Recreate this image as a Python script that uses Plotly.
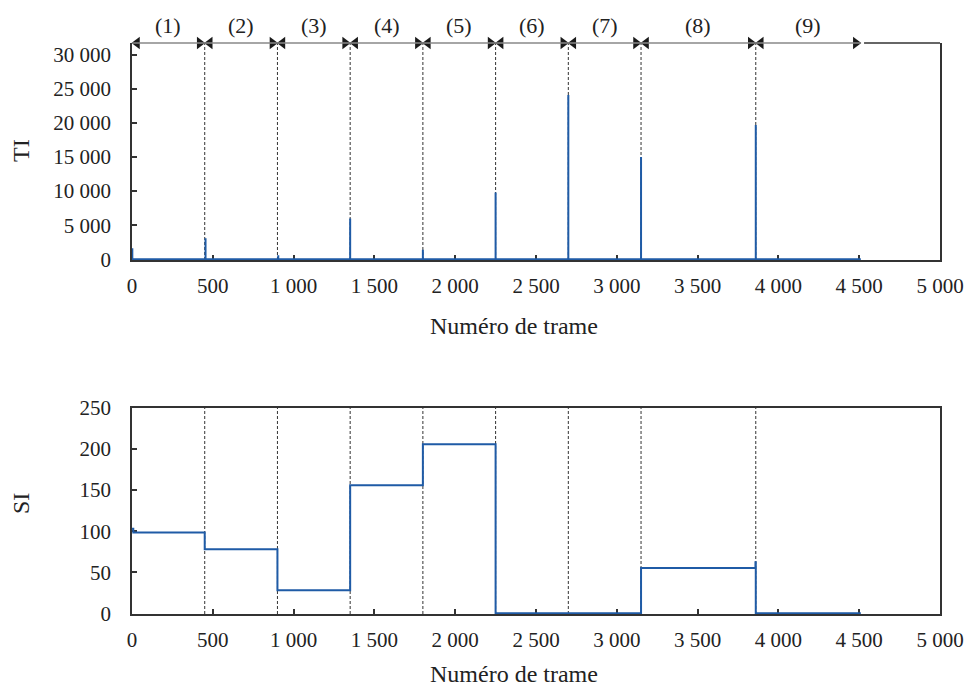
import plotly.graph_objects as go

# ---- data ----
boundaries = [0, 450, 900, 1350, 1800, 2250, 2700, 3150, 3860, 4510]
segment_labels = ["(1)", "(2)", "(3)", "(4)", "(5)", "(6)", "(7)", "(8)", "(9)"]
si_values = [98.5, 78, 28, 156, 206, 0, 0, 55, 0]
si_start_peak = 103
si_seg8_end_peak = 62
ti_spike_frames = [2, 455, 905, 1350, 1800, 2250, 2700, 3150, 3860]
ti_spike_values = [1600, 3100, 600, 6000, 1400, 9800, 24100, 15000, 19700]

x_ticks = [0, 500, 1000, 1500, 2000, 2500, 3000, 3500, 4000, 4500, 5000]
ti_ticks = [0, 5000, 10000, 15000, 20000, 25000, 30000]
si_ticks = [0, 50, 100, 150, 200, 250]

BLUE = "#1f5ba6"
AX = "#333333"
TXT = "#222222"
FONT = "Liberation Serif"

W, H = 966, 689
xdom = [132 / W, 940 / W]
top_dom = [1 - 260 / H, 1 - 43 / H]
bot_dom = [1 - 614 / H, 1 - 408 / H]
TI_MAX = 31750

# TI series: zero baseline with spikes
ti_x = [boundaries[0]]
ti_y = [0]
for f, v in zip(ti_spike_frames, ti_spike_values):
    ti_x += [f, f, f]
    ti_y += [0, v, 0]
ti_x.append(boundaries[-1])
ti_y.append(0)

# SI series: step function
si_x = [boundaries[0], boundaries[0] + 8]
si_y = [si_start_peak, si_values[0]]
for b, v in zip(boundaries[1:-1], si_values[1:]):
    if b == boundaries[8]:
        si_x.append(b - 2)
        si_y.append(si_seg8_end_peak)
    si_x.append(b)
    si_y.append(v)
si_x.append(boundaries[-1])
si_y.append(si_values[-1])

fig = go.Figure()
fig.add_trace(go.Scatter(x=ti_x, y=ti_y, mode="lines", line=dict(color=BLUE, width=2),
                         xaxis="x", yaxis="y", showlegend=False))
fig.add_trace(go.Scatter(x=si_x, y=si_y, mode="lines", line=dict(color=BLUE, width=2, shape="hv"),
                         xaxis="x2", yaxis="y2", showlegend=False))

# arrowheads for segments
off = 31
ax_l, ax_r = [], []
for a, b in zip(boundaries[:-1], boundaries[1:]):
    ax_l.append(a + off)
    ax_r.append(b - off)
fig.add_trace(go.Scatter(x=ax_l, y=[TI_MAX] * len(ax_l), mode="markers",
                         marker=dict(symbol="triangle-left", size=11, color="#1a1a1a"),
                         cliponaxis=False, xaxis="x", yaxis="y", showlegend=False))
fig.add_trace(go.Scatter(x=ax_r, y=[TI_MAX] * len(ax_r), mode="markers",
                         marker=dict(symbol="triangle-right", size=11, color="#1a1a1a"),
                         cliponaxis=False, xaxis="x", yaxis="y", showlegend=False))

shapes = []
# gray arrow line
shapes.append(dict(type="line", xref="x", yref="paper", x0=boundaries[0], x1=boundaries[-1],
                   y0=top_dom[1], y1=top_dom[1], line=dict(color="#888888", width=1.5)))
# black top border after last segment
shapes.append(dict(type="line", xref="x", yref="paper", x0=boundaries[-1] + 20, x1=5000,
                   y0=top_dom[1], y1=top_dom[1], line=dict(color=AX, width=1.5)))
# dashed separators
for b in boundaries[1:-1]:
    for dom, xr in ((top_dom, "x"), (bot_dom, "x2")):
        shapes.append(dict(type="line", xref=xr, yref="paper", x0=b, x1=b, y0=dom[0], y1=dom[1],
                           line=dict(color="#333333", width=1, dash="3px,2px"), layer="below"))

annotations = []
for a, b, lab in zip(boundaries[:-1], boundaries[1:], segment_labels):
    annotations.append(dict(x=(a + b) / 2, y=1 - 25 / H, xref="x", yref="paper",
                            xanchor="center", yanchor="middle",
                            text=lab, showarrow=False, font=dict(family=FONT, size=22, color=TXT)))
annotations += [
    dict(x=21 / W, y=1 - 151 / H, xref="paper", yref="paper", text="TI",
         xanchor="center", yanchor="middle",
         textangle=-90, showarrow=False, font=dict(family=FONT, size=24, color=TXT)),
    dict(x=21 / W, y=1 - 504 / H, xref="paper", yref="paper", text="SI",
         xanchor="center", yanchor="middle",
         textangle=-90, showarrow=False, font=dict(family=FONT, size=24, color=TXT)),
    dict(x=514 / W, y=1 - 326 / H, xref="paper", yref="paper", text="Numéro de trame",
         xanchor="center", yanchor="middle",
         showarrow=False, font=dict(family=FONT, size=24, color=TXT)),
    dict(x=514 / W, y=1 - 674 / H, xref="paper", yref="paper", text="Numéro de trame",
         xanchor="center", yanchor="middle",
         showarrow=False, font=dict(family=FONT, size=24, color=TXT)),
]

axis_common = dict(showgrid=False, zeroline=False, showline=True, linecolor=AX, linewidth=1.5,
                   ticks="inside", ticklen=5, tickwidth=1.5, tickcolor=AX, automargin=False,
                   tickfont=dict(family=FONT, size=21, color=TXT), layer="below traces")

fig.update_layout(
    template="none",
    width=W, height=H, margin=dict(l=0, r=0, t=0, b=0),
    paper_bgcolor="white", plot_bgcolor="white", separators=". ",
    showlegend=False, shapes=shapes, annotations=annotations,
    xaxis=dict(domain=xdom, anchor="y", range=[0, 5000], tickvals=x_ticks, tickformat=",d",
               ticklabelstandoff=6, **axis_common),
    yaxis=dict(domain=top_dom, anchor="x", range=[-110, TI_MAX], tickvals=ti_ticks, tickformat=",d",
               mirror=True, ticklabelstandoff=15, **axis_common),
    xaxis2=dict(domain=xdom, anchor="y2", range=[0, 5000], tickvals=x_ticks, tickformat=",d",
                mirror=True, ticklabelstandoff=6, **axis_common),
    yaxis2=dict(domain=bot_dom, anchor="x2", range=[-0.9, 250], tickvals=si_ticks, tickformat=",d",
                mirror=True, ticklabelstandoff=15, **axis_common),
)

fig.write_html("out.html")
